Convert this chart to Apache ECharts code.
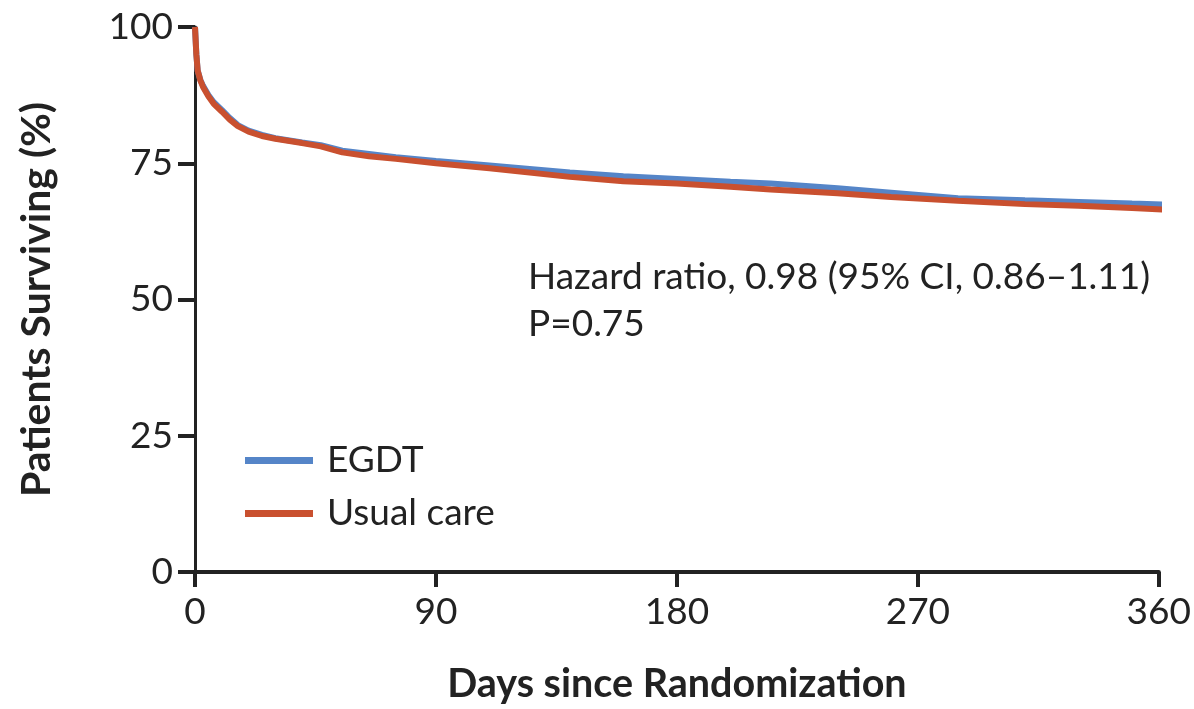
<!DOCTYPE html>
<html>
<head>
<meta charset="utf-8">
<script src="https://cdn.jsdelivr.net/npm/echarts@6/dist/echarts.min.js"></script>
<style>
html,body{margin:0;padding:0;background:#fff;}
#chart{width:1194px;height:709px;}
</style>
</head>
<body>
<div id="chart"></div>
<script>
// Days since randomization
const days = [0, 0.5, 1, 2, 3, 5, 7, 10, 13, 16, 20, 25, 30, 40, 47, 55, 65, 75, 90, 110, 140, 160, 180, 200, 215, 240, 260, 285, 310, 330, 350, 365];
// Patients surviving (%)
const egdt = [100, 95, 92, 90.3, 89.2, 87.5, 86.2, 84.8, 83.3, 82.0, 81.0, 80.2, 79.6, 78.8, 78.3, 77.3, 76.7, 76.1, 75.4, 74.6, 73.3, 72.6, 72.1, 71.6, 71.3, 70.4, 69.6, 68.6, 68.2, 67.9, 67.6, 67.4];
const usualCare = [100, 95, 92, 90.2, 89.0, 87.3, 85.9, 84.5, 83.0, 81.8, 80.8, 80.0, 79.5, 78.7, 78.1, 77.0, 76.3, 75.8, 75.0, 74.1, 72.5, 71.7, 71.3, 70.7, 70.2, 69.5, 68.8, 68.1, 67.5, 67.2, 66.8, 66.4];
const xTicks = [0, 90, 180, 270, 360];
const yTicks = [0, 25, 50, 75, 100];
const seriesNames = ['EGDT', 'Usual care'];
const annotation = ['Hazard ratio, 0.98 (95% CI, 0.86\u20131.11)', 'P=0.75'];

const FONT = 'Lato, "Open Sans", sans-serif';
const chart = echarts.init(document.getElementById('chart'));
const pairs = arr => days.map((d, i) => [d, arr[i]]);

chart.setOption({
  animation: false,
  backgroundColor: '#fff',
  grid: {left: 195, right: 34, top: 27, bottom: 132, containLabel: false},
  xAxis: {
    type: 'value', min: 0, max: 360, interval: 90,
    name: 'Days since Randomization', nameLocation: 'middle', nameGap: 92,
    nameTextStyle: {fontFamily: FONT, fontWeight: 'bold', fontSize: 39.5, color: '#222'},
    axisLine: {show: true, lineStyle: {color: '#222', width: 4}},
    axisTick: {show: true, length: 15, lineStyle: {color: '#222', width: 4}},
    axisLabel: {fontFamily: FONT, fontSize: 37, color: '#222', margin: 22,
      formatter: v => xTicks.includes(v) ? String(v) : ''},
    splitLine: {show: false}
  },
  yAxis: {
    type: 'value', min: 0, max: 100, interval: 25,
    name: 'Patients Surviving (%)', nameLocation: 'middle', nameGap: 138, nameRotate: 90,
    nameTextStyle: {fontFamily: FONT, fontWeight: 'bold', fontSize: 41, color: '#222'},
    axisLine: {show: true, lineStyle: {color: '#222', width: 3}},
    axisTick: {show: true, length: 17, lineStyle: {color: '#222', width: 4}},
    axisLabel: {fontFamily: FONT, fontSize: 37, color: '#222', margin: 22,
      formatter: v => yTicks.includes(v) ? String(v) : ''},
    splitLine: {show: false}
  },
  legend: {
    orient: 'vertical', left: 245, top: 442, itemGap: 16, padding: 0,
    itemWidth: 68, itemHeight: 7, icon: 'rect',
    textStyle: {fontFamily: FONT, fontSize: 37, color: '#222', padding: [0, 0, 0, 9]},
    data: seriesNames
  },
  series: [
    {name: seriesNames[0], type: 'line', data: pairs(egdt), showSymbol: false, symbol: 'none',
     clip: false, lineStyle: {color: '#5585c8', width: 6}, itemStyle: {color: '#5585c8'}, z: 3},
    {name: seriesNames[1], type: 'line', data: pairs(usualCare), showSymbol: false, symbol: 'none',
     clip: false, lineStyle: {color: '#c9502f', width: 6}, itemStyle: {color: '#c9502f'}, z: 4}
  ],
  graphic: [
    {type: 'text', left: 528, top: 259, style: {text: annotation[0], font: '37px ' + FONT, fill: '#222'}},
    {type: 'text', left: 528, top: 306, style: {text: annotation[1], font: '37px ' + FONT, fill: '#222'}}
  ]
});
</script>
</body>
</html>
